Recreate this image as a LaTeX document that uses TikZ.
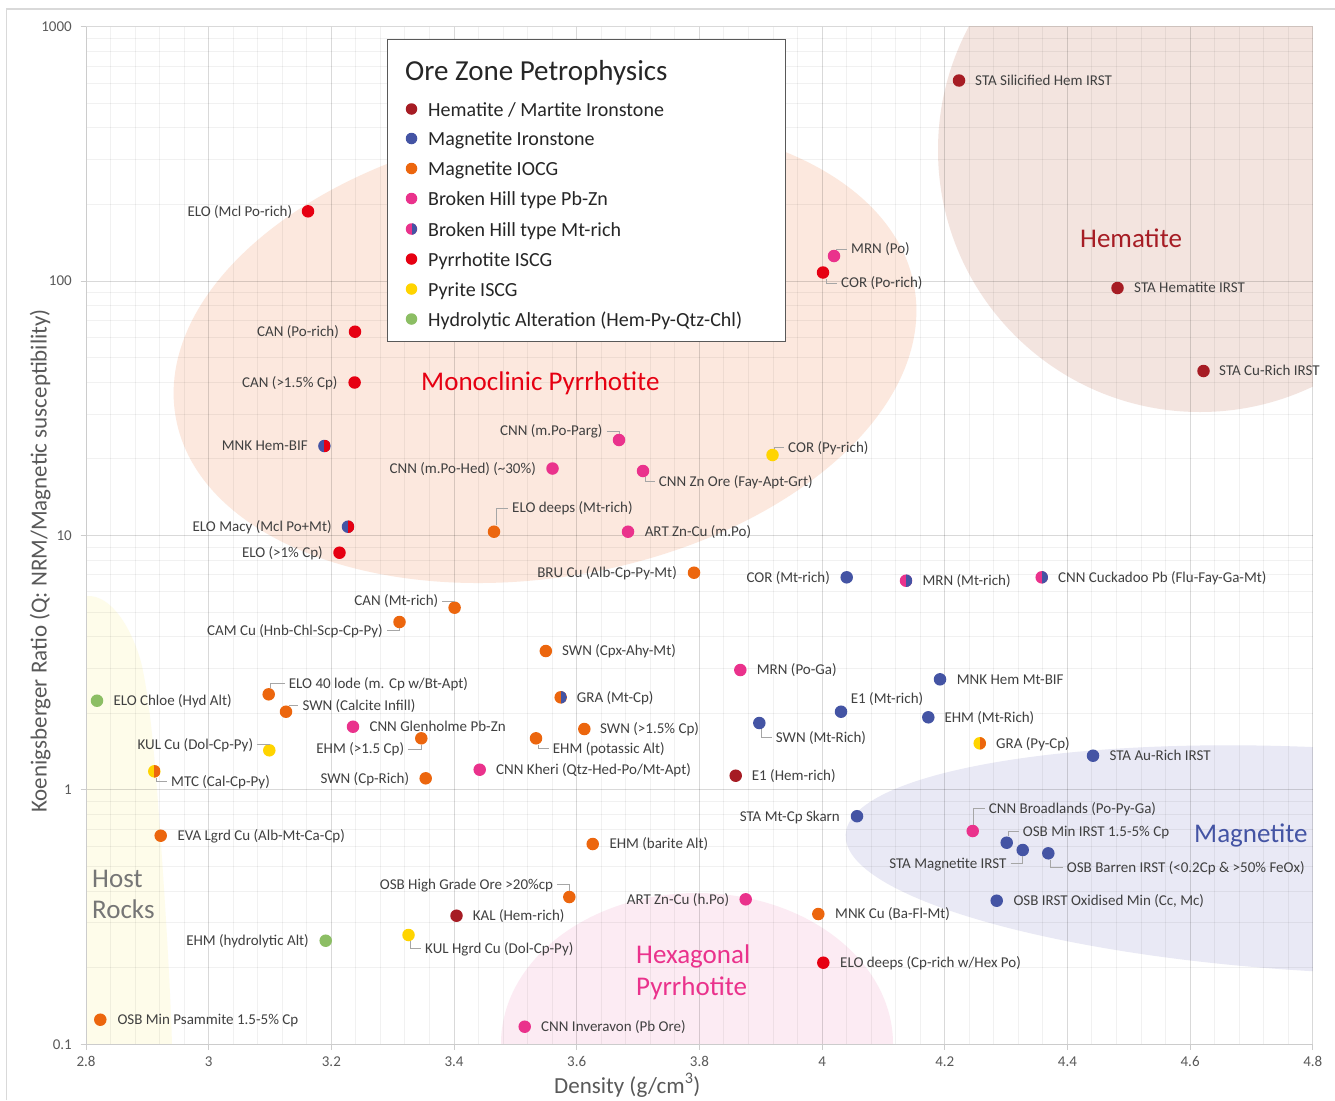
\documentclass[tikz,border=0pt]{standalone}
\usepackage{fontspec}
\setmainfont{Carlito}
\definecolor{hemc}{RGB}{166,28,36}
\definecolor{magc}{RGB}{68,84,164}
\definecolor{iocgc}{RGB}{236,102,14}
\definecolor{bhc}{RGB}{234,50,140}
\definecolor{poc}{RGB}{230,0,18}
\definecolor{pyc}{RGB}{255,212,0}
\definecolor{hydc}{RGB}{140,190,100}
\definecolor{labc}{RGB}{64,64,64}
\definecolor{tickc}{RGB}{89,89,89}
\definecolor{leadc}{RGB}{166,166,166}
\definecolor{axc}{RGB}{204,204,204}
\definecolor{framec}{RGB}{217,217,217}
\definecolor{monofill}{RGB}{252,232,222}
\definecolor{hemfill}{RGB}{243,228,223}
\definecolor{hexfill}{RGB}{252,235,243}
\definecolor{magfill}{RGB}{233,233,245}
\definecolor{hostfill}{RGB}{254,252,234}
\definecolor{hostc}{RGB}{118,118,118}
\definecolor{legc}{RGB}{38,38,38}
\definecolor{legborder}{RGB}{89,89,89}
\newcommand\mylab{\fontsize{15}{18}\selectfont}
\newcommand\myreg{\fontsize{27}{30}\selectfont}
\newcommand\myleg{\fontsize{20}{24}\selectfont}
\newcommand\mylegtitle{\fontsize{29}{34}\selectfont}
\newcommand\myaxis{\fontsize{23}{27}\selectfont}
\begin{document}
\begin{tikzpicture}[x=1pt,y=-1pt,
  dot/.style={circle, inner sep=0pt, minimum size=12.5pt, draw=none},
  splitdot/.style 2 args={dot, fill=#1, path picture={\fill[#2] (path picture bounding box.north) rectangle (path picture bounding box.south east);}},
  lab/.style={font=\mylab, text=labc, inner sep=0pt, text height=9.7pt, text depth=0pt},
  labr/.style={lab, anchor=west},
  labl/.style={lab, anchor=east},
  lead/.style={draw=leadc, line width=0.8pt},
  ticklab/.style={font=\mylab, text=tickc, inner sep=0pt, text height=9.7pt, text depth=0pt},
  reglab/.style={font=\myreg, inner sep=0pt, anchor=base west},
  minorgrid/.style={draw=black, draw opacity=0.055, line width=1pt},
  majorgrid/.style={draw=black, draw opacity=0.15, line width=1pt},
  legtext/.style={font=\myleg, text=legc, inner sep=0pt, anchor=base west},
]
\useasboundingbox (0,0) rectangle (1335,1100);
\fill[white] (0,0) rectangle (1335,1100);
\draw[framec, line width=1.2pt] (6.7,1100) -- (6.7,9) -- (1335,9);

% ---------- shaded regions ----------
\begin{scope}
\clip (86,26.7) rectangle (1312.8,1044.3);
\fill[hostfill] (86,596) .. controls (112,594) and (132,630) .. (141,662)
   .. controls (150,700) and (155,760) .. (160,830)
   .. controls (165,900) and (170,980) .. (172,1044.3) -- (86,1044.3) -- cycle;
\begin{scope}[shift={(545,352)},rotate=10]
  \fill[monofill] (0,0) ellipse [x radius=375, y radius=225];
\end{scope}
\fill[hemfill] (1200,150) circle [radius=262];
\fill[hexfill] (697,1044) ellipse [x radius=196, y radius=151];
\begin{scope}[shift={(1330,860)},rotate=-3]
  \fill[magfill] (0,0) ellipse [x radius=485, y radius=112];
\end{scope}
\end{scope}

% ---------- grid ----------
\foreach \j in {0,...,9} {
  \foreach \k in {1,...,4} {
    \draw[minorgrid] ({86+(\j*5+\k)*24.536},26.7) -- ({86+(\j*5+\k)*24.536},1044.3);
  }
}
\foreach \d in {0,...,3} {
  \foreach \m in {2,...,9} {
    \draw[minorgrid] (86,{1044.3-(\d+ln(\m)/ln(10))*254.4}) -- (1312.8,{1044.3-(\d+ln(\m)/ln(10))*254.4});
  }
}
\foreach \j in {1,...,10} {
  \draw[majorgrid] ({86+\j*122.68},26.7) -- ({86+\j*122.68},1044.3);
}
\foreach \d in {1,...,4} {
  \draw[majorgrid] (86,{1044.3-\d*254.4}) -- (1312.8,{1044.3-\d*254.4});
}
% axes
\draw[axc, line width=1pt] (86,26.7) -- (86,1044.3) -- (1312.8,1044.3);
\foreach \j in {0,...,10} { \draw[axc, line width=1pt] ({86+\j*122.68},1044.3) -- ({86+\j*122.68},1049.5); }
\foreach \d in {0,...,4} { \draw[axc, line width=1pt] (80.5,{1044.3-\d*254.4}) -- (86,{1044.3-\d*254.4}); }

% tick labels
\node[ticklab, anchor=east] (y3) at (72,26.7) {1000};
\node[ticklab, anchor=east] (y2) at (72,281.1) {100};
\node[ticklab, anchor=east] (y1) at (72,535.5) {10};
\node[ticklab, anchor=east] (y0) at (72,789.9) {1};
\node[ticklab, anchor=east] (ym) at (72,1044.3) {0.1};
\foreach \v/\t [count=\c] in {0/2.8,1/3,2/3.2,3/3.4,4/3.6,5/3.8,6/4,7/4.2,8/4.4,9/4.6,10/4.8} {
  \node[ticklab] (x\c) at ({86+\v*122.68},1062) {\t};
}
% axis titles
\node[font=\myaxis, text=tickc, inner sep=0pt, anchor=base west] (xtitle) at (554,1093) {Density (g/cm\textsuperscript{3})};
\node[font=\myaxis, text=tickc, inner sep=0pt, anchor=base west, rotate=90] (ytitle) at (46.5,813) {Koenigsberger Ratio (Q: NRM/Magnetic susceptibility)};

% ---------- region labels ----------
\node[reglab, text=poc] (rmono) at (421,390.4) {Monoclinic Pyrrhotite};
\node[reglab, text=hemc] (rhem) at (1080,247) {Hematite};
\node[reglab, text=bhc] (rhex1) at (636,963) {Hexagonal};
\node[reglab, text=bhc] (rhex2) at (636,995) {Pyrrhotite};
\node[reglab, text=hostc] (rhost1) at (92,887) {Host};
\node[reglab, text=hostc] (rhost2) at (92,918.5) {Rocks};
\node[reglab, text=magc] (rmag) at (1194,842.7) {Magnetite};

% ---------- legend ----------
\node[draw=legborder, line width=1.2pt, fill=white, anchor=north west, minimum width=398pt, minimum height=302pt, inner sep=0pt] (legend) at (387,39) {};
\node[font=\mylegtitle, text=legc, inner sep=0pt, anchor=base west] (legtitle) at (405,80) {Ore Zone Petrophysics};
\node[dot, minimum size=11.5pt, fill=hemc] (k1) at (411.5,109) {};
\node[legtext] (t1) at (428,116) {Hematite / Martite Ironstone};
\node[dot, minimum size=11.5pt, fill=magc] (k2) at (411.5,138.5) {};
\node[legtext] (t2) at (428,145.5) {Magnetite Ironstone};
\node[dot, minimum size=11.5pt, fill=iocgc] (k3) at (411.5,168.5) {};
\node[legtext] (t3) at (428,175.5) {Magnetite IOCG};
\node[dot, minimum size=11.5pt, fill=bhc] (k4) at (411.5,198.5) {};
\node[legtext] (t4) at (428,205.5) {Broken Hill type Pb-Zn};
\node[splitdot={bhc}{magc}, minimum size=11.5pt] (k5) at (411.5,229) {};
\node[legtext] (t5) at (428,236) {Broken Hill type Mt-rich};
\node[dot, minimum size=11.5pt, fill=poc] (k6) at (411.5,259) {};
\node[legtext] (t6) at (428,266) {Pyrrhotite ISCG};
\node[dot, minimum size=11.5pt, fill=pyc] (k7) at (411.5,289) {};
\node[legtext] (t7) at (428,296) {Pyrite ISCG};
\node[dot, minimum size=11.5pt, fill=hydc] (k8) at (411.5,319) {};
\node[legtext] (t8) at (428,326) {Hydrolytic Alteration (Hem-Py-Qtz-Chl)};

% ---------- data points ----------
\node[dot, fill=poc] (p1) at (308,211.3) {};
\node[labl] (l1) at (292.3,211.3) {ELO (Mcl Po-rich)};
\node[dot, fill=hemc] (p2) at (959,80.5) {};
\node[labr] (l2) at (975,80.5) {STA Silicified Hem IRST};
\node[dot, fill=bhc] (p3) at (834,256) {};
\node[labr] (l3) at (851,249) {MRN (Po)};
\node[dot, fill=poc] (p4) at (823,272.5) {};
\node[labr] (l4) at (841,283) {COR (Po-rich)};
\node[dot, fill=hemc] (p5) at (1117.5,288) {};
\node[labr] (l5) at (1134,287.5) {STA Hematite IRST};
\node[dot, fill=poc] (p6) at (355,331.7) {};
\node[labl] (l6) at (339,331.7) {CAN (Po-rich)};
\node[dot, fill=hemc] (p7) at (1203.5,371) {};
\node[labr] (l7) at (1219,370.5) {STA Cu-Rich IRST};
\node[dot, fill=poc] (p8) at (354.6,382.5) {};
\node[labl] (l8) at (337.7,382.5) {CAN (>1.5\% Cp)};
\node[dot, fill=bhc] (p9) at (619,440) {};
\node[labl] (l9) at (602.6,431) {CNN (m.Po-Parg)};
\node[splitdot={magc}{poc}] (p10) at (324.4,446) {};
\node[labl] (l10) at (308,446) {MNK Hem-BIF};
\node[dot, fill=pyc] (p11) at (772.5,455) {};
\node[labr] (l11) at (788,447.3) {COR (Py-rich)};
\node[dot, fill=bhc] (p12) at (552.5,468.5) {};
\node[labl] (l12) at (536,468.5) {CNN (m.Po-Hed) (\textasciitilde30\%)};
\node[dot, fill=bhc] (p13) at (643,471) {};
\node[labr] (l13) at (658.7,481.7) {CNN Zn Ore (Fay-Apt-Grt)};
\node[dot, fill=iocgc] (p14) at (494,531.7) {};
\node[labr] (l14) at (512,508) {ELO deeps (Mt-rich)};
\node[splitdot={magc}{poc}] (p15) at (348,526.7) {};
\node[labl] (l15) at (331.8,526.7) {ELO Macy (Mcl Po+Mt)};
\node[dot, fill=bhc] (p16) at (628,531.7) {};
\node[labr] (l16) at (644.6,531.7) {ART Zn-Cu (m.Po)};
\node[dot, fill=poc] (p17) at (339.5,552.7) {};
\node[labl] (l17) at (323,552.7) {ELO (>1\% Cp)};
\node[dot, fill=iocgc] (p18) at (694,572.7) {};
\node[labl] (l18) at (677,572.7) {BRU Cu (Alb-Cp-Py-Mt)};
\node[dot, fill=magc] (p19) at (846.7,577.3) {};
\node[labl] (l19) at (830,577.3) {COR (Mt-rich)};
\node[splitdot={bhc}{magc}] (p20) at (906,580.7) {};
\node[labr] (l20) at (922.4,580.7) {MRN (Mt-rich)};
\node[splitdot={bhc}{magc}] (p21) at (1041.7,577.3) {};
\node[labr] (l21) at (1058,577.3) {CNN Cuckadoo Pb (Flu-Fay-Ga-Mt)};
\node[dot, fill=iocgc] (p22) at (454.6,607.7) {};
\node[labl] (l22) at (438.4,601) {CAN (Mt-rich)};
\node[dot, fill=iocgc] (p23) at (399.5,622) {};
\node[labl] (l23) at (383,630.7) {CAM Cu (Hnb-Chl-Scp-Cp-Py)};
\node[dot, fill=iocgc] (p24) at (545.8,651) {};
\node[labr] (l24) at (562,651) {SWN (Cpx-Ahy-Mt)};
\node[dot, fill=bhc] (p25) at (740.3,670) {};
\node[labr] (l25) at (756.7,670) {MRN (Po-Ga)};
\node[dot, fill=iocgc] (p26) at (268.7,694.3) {};
\node[labr] (l26) at (288.7,683.7) {ELO 40 lode (m. Cp w/Bt-Apt)};
\node[dot, fill=hydc] (p27) at (97,700.7) {};
\node[labr] (l27) at (113.3,700.7) {ELO Chloe (Hyd Alt)};
\node[splitdot={iocgc}{magc}] (p28) at (560.7,697.3) {};
\node[labr] (l28) at (576.7,697.3) {GRA (Mt-Cp)};
\node[dot, fill=magc] (p29) at (940,679.3) {};
\node[labr] (l29) at (956.7,679.3) {MNK Hem Mt-BIF};
\node[dot, fill=iocgc] (p30) at (286,711.7) {};
\node[labr] (l30) at (302.3,705.7) {SWN (Calcite Infill)};
\node[dot, fill=magc] (p31) at (841,711.7) {};
\node[labr] (l31) at (850.7,699) {E1 (Mt-rich)};
\node[dot, fill=bhc] (p32) at (353,726.7) {};
\node[labr] (l32) at (369.3,726.7) {CNN Glenholme Pb-Zn};
\node[dot, fill=iocgc] (p33) at (584.3,729) {};
\node[labr] (l33) at (600,729) {SWN (>1.5\% Cp)};
\node[dot, fill=magc] (p34) at (928.3,717.3) {};
\node[labr] (l34) at (944.3,717.3) {EHM (Mt-Rich)};
\node[dot, fill=magc] (p35) at (759.3,723) {};
\node[labr] (l35) at (775.7,737.3) {SWN (Mt-Rich)};
\node[dot, fill=pyc] (p36) at (269.3,750.3) {};
\node[labl] (l36) at (253.3,744.3) {KUL Cu (Dol-Cp-Py)};
\node[dot, fill=iocgc] (p37) at (421.3,738.3) {};
\node[labl] (l37) at (404.3,749) {EHM (>1.5 Cp)};
\node[dot, fill=iocgc] (p38) at (536,738.3) {};
\node[labr] (l38) at (552.7,748.7) {EHM (potassic Alt)};
\node[splitdot={pyc}{iocgc}] (p39) at (979.7,743.3) {};
\node[labr] (l39) at (996,743.3) {GRA (Py-Cp)};
\node[dot, fill=magc] (p40) at (1093,755.7) {};
\node[labr] (l40) at (1109.3,755.7) {STA Au-Rich IRST};
\node[splitdot={pyc}{iocgc}] (p41) at (154.3,771.3) {};
\node[labr] (l41) at (171,781.7) {MTC (Cal-Cp-Py)};
\node[dot, fill=bhc] (p42) at (479.7,769.7) {};
\node[labr] (l42) at (496,770) {CNN Kheri (Qtz-Hed-Po/Mt-Apt)};
\node[dot, fill=hemc] (p43) at (735.7,775.7) {};
\node[labr] (l43) at (751.7,775.7) {E1 (Hem-rich)};
\node[dot, fill=iocgc] (p44) at (425.7,778.3) {};
\node[labl] (l44) at (409.3,778.3) {SWN (Cp-Rich)};
\node[dot, fill=bhc] (p45) at (972.7,831) {};
\node[labr] (l45) at (988.7,808.3) {CNN Broadlands (Po-Py-Ga)};
\node[dot, fill=magc] (p46) at (857,816.2) {};
\node[labl] (l46) at (840,816.2) {STA Mt-Cp Skarn};
\node[dot, fill=magc] (p47) at (1006.7,842.7) {};
\node[labr] (l47) at (1022.7,831.7) {OSB Min IRST 1.5-5\% Cp};
\node[dot, fill=iocgc] (p48) at (160.7,835.7) {};
\node[labr] (l48) at (177.3,835.7) {EVA Lgrd Cu (Alb-Mt-Ca-Cp)};
\node[dot, fill=iocgc] (p49) at (592.7,844) {};
\node[labr] (l49) at (609.3,844) {EHM (barite Alt)};
\node[dot, fill=magc] (p50) at (1022.7,850) {};
\node[labl] (l50) at (1006.7,863.3) {STA Magnetite IRST};
\node[dot, fill=magc] (p51) at (1048.3,853.3) {};
\node[labr] (l51) at (1066.7,867.3) {OSB Barren IRST (<0.2Cp \& >50\% FeOx)};
\node[dot, fill=iocgc] (p52) at (569.3,897) {};
\node[labl] (l52) at (553.3,884.3) {OSB High Grade Ore >20\%cp};
\node[dot, fill=bhc] (p53) at (745.7,899.3) {};
\node[labl] (l53) at (729.3,899.3) {ART Zn-Cu (h.Po)};
\node[dot, fill=magc] (p54) at (996.7,900.7) {};
\node[labr] (l54) at (1013.3,900.7) {OSB IRST Oxidised Min (Cc, Mc)};
\node[dot, fill=hemc] (p55) at (456.5,915.7) {};
\node[labr] (l55) at (472.7,915.7) {KAL (Hem-rich)};
\node[dot, fill=iocgc] (p56) at (818.3,914) {};
\node[labr] (l56) at (835,914) {MNK Cu (Ba-Fl-Mt)};
\node[dot, fill=hydc] (p57) at (325.7,940.7) {};
\node[labl] (l57) at (309,940.7) {EHM (hydrolytic Alt)};
\node[dot, fill=pyc] (p58) at (408.5,935) {};
\node[labr] (l58) at (425,948.3) {KUL Hgrd Cu (Dol-Cp-Py)};
\node[dot, fill=poc] (p59) at (823.3,962.7) {};
\node[labr] (l59) at (840,962.7) {ELO deeps (Cp-rich w/Hex Po)};
\node[dot, fill=iocgc] (p60) at (100.3,1019.7) {};
\node[labr] (l60) at (117.3,1019.7) {OSB Min Psammite 1.5-5\% Cp};
\node[dot, fill=bhc] (p61) at (524.7,1026.7) {};
\node[labr] (l61) at (541,1026.7) {CNN Inveravon (Pb Ore)};

% ---------- leader lines ----------
\draw[lead] ([xshift=2pt]p3.north) |- ([xshift=-4pt]l3.west);
\draw[lead] ([xshift=3pt]p4.south) |- ([xshift=-4pt]l4.west);
\draw[lead] ([xshift=4pt]l9.east) -| (p9.north);
\draw[lead] ([xshift=2pt]p11.north) |- ([xshift=-4pt]l11.west);
\draw[lead] ([xshift=2pt]p13.south) |- ([xshift=-4pt]l13.west);
\draw[lead] ([xshift=2pt]p14.north) |- ([xshift=-4pt]l14.west);
\draw[lead] ([xshift=4pt]l22.east) -| (p22.north);
\draw[lead] ([xshift=4pt]l23.east) -| (p23.south);
\draw[lead] ([xshift=2pt]p26.north) |- ([xshift=-4pt]l26.west);
\draw[lead] ([xshift=3pt]p30.north) |- ([xshift=-4pt]l30.west);
\draw[lead] ([xshift=2pt]p35.south) |- ([xshift=-4pt]l35.west);
\draw[lead] ([xshift=4pt]l36.east) -| (p36.north);
\draw[lead] ([xshift=4pt]l37.east) -| (p37.south);
\draw[lead] ([xshift=2pt]p38.south) |- ([xshift=-4pt]l38.west);
\draw[lead] ([xshift=2pt]p41.south) |- ([xshift=-4pt]l41.west);
\draw[lead] ([xshift=1pt]p45.north) |- ([xshift=-4pt]l45.west);
\draw[lead] ([xshift=2pt]p47.north) |- ([xshift=-4pt]l47.west);
\draw[lead] ([xshift=4pt]l50.east) -| (p50.south);
\draw[lead] ([xshift=2pt]p51.south) |- ([xshift=-4pt]l51.west);
\draw[lead] ([xshift=4pt]l52.east) -| (p52.north);
\draw[lead] ([xshift=2pt]p58.south) |- ([xshift=-4pt]l58.west);
\end{tikzpicture}
\end{document}
